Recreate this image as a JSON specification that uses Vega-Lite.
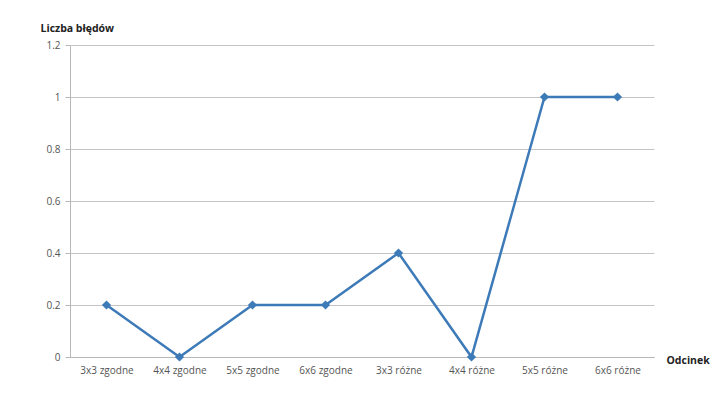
{
  "$schema": "https://vega.github.io/schema/vega-lite/v6.json",
  "width": 584,
  "height": 312,
  "autosize": {"type": "none"},
  "padding": {"left": 70, "top": 45, "right": 63, "bottom": 47},
  "background": "white",
  "config": {
    "view": {"stroke": null},
    "font": "Open Sans",
    "axis": {
      "labelFont": "Open Sans",
      "labelFontSize": 10,
      "labelColor": "#555555",
      "titleFont": "Open Sans",
      "titleFontSize": 10.5,
      "titleFontWeight": "bold",
      "titleColor": "#222222",
      "domainColor": "#b8b8b8",
      "gridColor": "#c4c4c4",
      "tickColor": "#b8b8b8"
    }
  },
  "data": {
    "values": [
      {"odcinek": "3x3 zgodne", "bledy": 0.2},
      {"odcinek": "4x4 zgodne", "bledy": 0},
      {"odcinek": "5x5 zgodne", "bledy": 0.2},
      {"odcinek": "6x6 zgodne", "bledy": 0.2},
      {"odcinek": "3x3 różne", "bledy": 0.4},
      {"odcinek": "4x4 różne", "bledy": 0},
      {"odcinek": "5x5 różne", "bledy": 1},
      {"odcinek": "6x6 różne", "bledy": 1}
    ]
  },
  "encoding": {
    "x": {
      "field": "odcinek",
      "type": "nominal",
      "sort": null,
      "scale": {"type": "point", "padding": 0.5},
      "axis": {
        "title": "Odcinek",
        "labelAngle": 0,
        "labelPadding": 8,
        "ticks": false,
        "domain": true,
        "titleAngle": 0,
        "titleAlign": "left",
        "titleBaseline": "middle",
        "titleX": 596,
        "titleY": 3
      }
    },
    "y": {
      "field": "bledy",
      "type": "quantitative",
      "scale": {"domain": [0, 1.2], "nice": false},
      "axis": {
        "title": "Liczba błędów",
        "values": [0, 0.2, 0.4, 0.6, 0.8, 1, 1.2],
        "format": "~g",
        "grid": true,
        "tickSize": 5,
        "labelPadding": 5,
        "titleAngle": 0,
        "titleAlign": "left",
        "titleBaseline": "alphabetic",
        "titleX": -30,
        "titleY": -14
      }
    }
  },
  "layer": [
    {
      "mark": {"type": "line", "color": "#3d7ab8", "strokeWidth": 2.5}
    },
    {
      "mark": {"type": "point", "shape": "diamond", "filled": true, "color": "#3d7ab8", "size": 85, "opacity": 1}
    }
  ]
}
